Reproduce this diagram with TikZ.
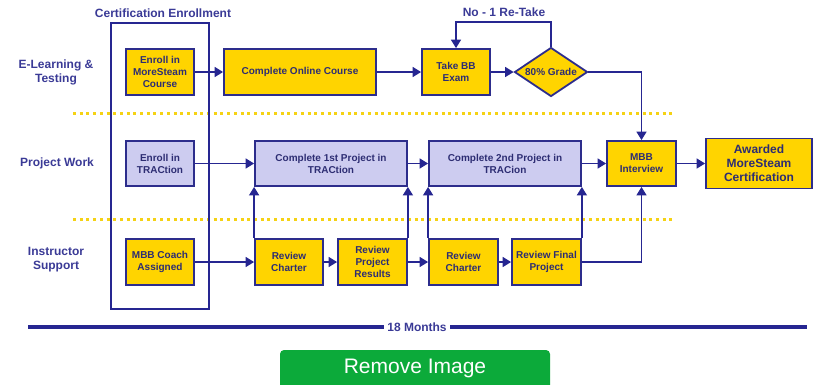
\documentclass[tikz,border=0pt]{standalone}
\usepackage{fontspec}
\setmainfont{Liberation Sans}
\usetikzlibrary{arrows.meta,shapes.geometric}
\definecolor{navy}{RGB}{38,38,145}
\definecolor{boxline}{RGB}{45,45,140}
\definecolor{boxtext}{RGB}{45,45,115}
\definecolor{lbltext}{RGB}{58,58,150}
\definecolor{gold}{RGB}{255,212,0}
\definecolor{lav}{RGB}{205,204,240}
\definecolor{dotyel}{RGB}{245,210,20}
\definecolor{btngreen}{RGB}{12,170,58}
\tikzset{
  ybox/.style={draw=boxline,line width=1.8pt,fill=gold,inner sep=0pt,align=center,text=boxtext,font=\bfseries\fontsize{10}{12}\selectfont},
  pbox/.style={ybox,fill=lav},
  lanelbl/.style={align=center,text=lbltext,font=\bfseries\fontsize{12}{14}\selectfont},
  arr/.style={draw=navy,line width=1.6pt,-{Triangle[length=8.5pt,width=10pt]}},
  conn/.style={draw=navy,line width=1.6pt},
  dotline/.style={draw=dotyel,line width=3pt,dash pattern=on 3pt off 3.7pt},
}
\begin{document}
\begin{tikzpicture}[x=1pt,y=-1pt]
\useasboundingbox (0,0) rectangle (816,384);
% lane separators
\coordinate (d1a) at (73,113); \coordinate (d1b) at (673,113);
\coordinate (d2a) at (73,219); \coordinate (d2b) at (675,219);
\draw[dotline] (d1a) -- (d1b);
\draw[dotline] (d2a) -- (d2b);
% enrollment frame
\node[conn,draw,minimum width=98pt,minimum height=286pt,inner sep=0pt] (frame) at (160,166) {};
\node[text=lbltext,font=\bfseries\fontsize{12}{14}\selectfont] (certtitle) at (163,13) {Certification Enrollment};
% lane labels
\node[lanelbl] (l1) at (56,72) {E-Learning \&\\Testing};
\node[lanelbl] (l2) at (57,163.5) {Project Work};
\node[lanelbl] (l3) at (56,260) {Instructor\\Support};
% row 1
\node[ybox,minimum width=68pt,minimum height=46pt] (ems) at (160,72) {Enroll in\\MoreSteam\\Course};
\node[ybox,minimum width=152pt,minimum height=46pt] (coc) at (300,72) {Complete Online Course};
\node[ybox,minimum width=68pt,minimum height=46pt] (bb) at (456,72) {Take BB\\Exam};
\node[diamond,draw=boxline,line width=1.8pt,fill=gold,minimum width=73pt,minimum height=49pt,inner sep=0pt] (grade) at (551,72) {};
\node[text=boxtext,font=\bfseries\fontsize{10}{12}\selectfont] (gradetxt) at (grade) {80\% Grade};
\node[text=lbltext,font=\bfseries\fontsize{12}{14}\selectfont] (retake) at (504,12) {No - 1 Re-Take};
\coordinate (looptop) at (0,22);
% row 2
\node[pbox,minimum width=68pt,minimum height=45pt] (tr) at (160,163.5) {Enroll in\\TRACtion};
\node[pbox,minimum width=152pt,minimum height=45pt] (p1) at (331,163.5) {Complete 1st Project in\\TRACtion};
\node[pbox,minimum width=152pt,minimum height=45pt] (p2) at (505,163.5) {Complete 2nd Project in\\TRACion};
\node[ybox,minimum width=69pt,minimum height=45pt] (mbb) at (641.5,163.5) {MBB\\Interview};
\node[ybox,minimum width=106pt,minimum height=50pt,font=\bfseries\fontsize{12}{14}\selectfont] (aw) at (759,163.5) {Awarded\\MoreSteam\\Certification};
% row 3
\node[ybox,minimum width=68pt,minimum height=46pt] (coach) at (160,262) {MBB Coach\\Assigned};
\node[ybox,minimum width=68pt,minimum height=46pt] (rc1) at (289,262) {Review\\Charter};
\node[ybox,minimum width=69pt,minimum height=46pt] (rpr) at (372.5,262) {Review\\Project\\Results};
\node[ybox,minimum width=69pt,minimum height=46pt] (rc2) at (463.5,262) {Review\\Charter};
\node[ybox,minimum width=69pt,minimum height=46pt] (rfp) at (546.5,262) {Review Final\\Project};
% connectors row 1
\draw[arr] (ems) -- (coc);
\draw[arr] (coc) -- (bb);
\draw[arr] (bb) -- (grade);
\draw[arr] (grade.north) -- (grade.north |- looptop) -| (bb.north);
\draw[arr] (grade.east) -| (mbb.north);
% connectors row 2
\draw[arr] (tr) -- (p1);
\draw[arr] (p1) -- (p2);
\draw[arr] (p2) -- (mbb);
\draw[arr] (mbb) -- (aw);
% connectors row 3
\draw[arr] (coach) -- (rc1);
\draw[arr] (rc1) -- (rpr);
\draw[arr] (rpr) -- (rc2);
\draw[arr] (rc2) -- (rfp);
\draw[arr] (rfp.east) -| (mbb.south);
% vertical
\draw[arr] (rc1.north west) -- (p1.south west);
\draw[arr] (rpr.north east) -- (p1.south east);
\draw[arr] (rc2.north west) -- (p2.south west);
\draw[arr] (rfp.north east) -- (p2.south east);
% timeline
\node[text=lbltext,font=\bfseries\fontsize{12}{14}\selectfont] (months) at (417,327) {18 Months};
\coordinate (tl1) at (28,327); \coordinate (tl2) at (807,327);
\draw[navy,line width=3.5pt] (tl1) -- (months.west);
\draw[navy,line width=3.5pt] (months.east) -- (tl2);
% button
\fill[btngreen,rounded corners=4pt] (280,350) rectangle (550,395);
\node[text=white,font=\fontsize{21}{24}\selectfont] (btn) at (415,368) {Remove Image};
\end{tikzpicture}
\end{document}
